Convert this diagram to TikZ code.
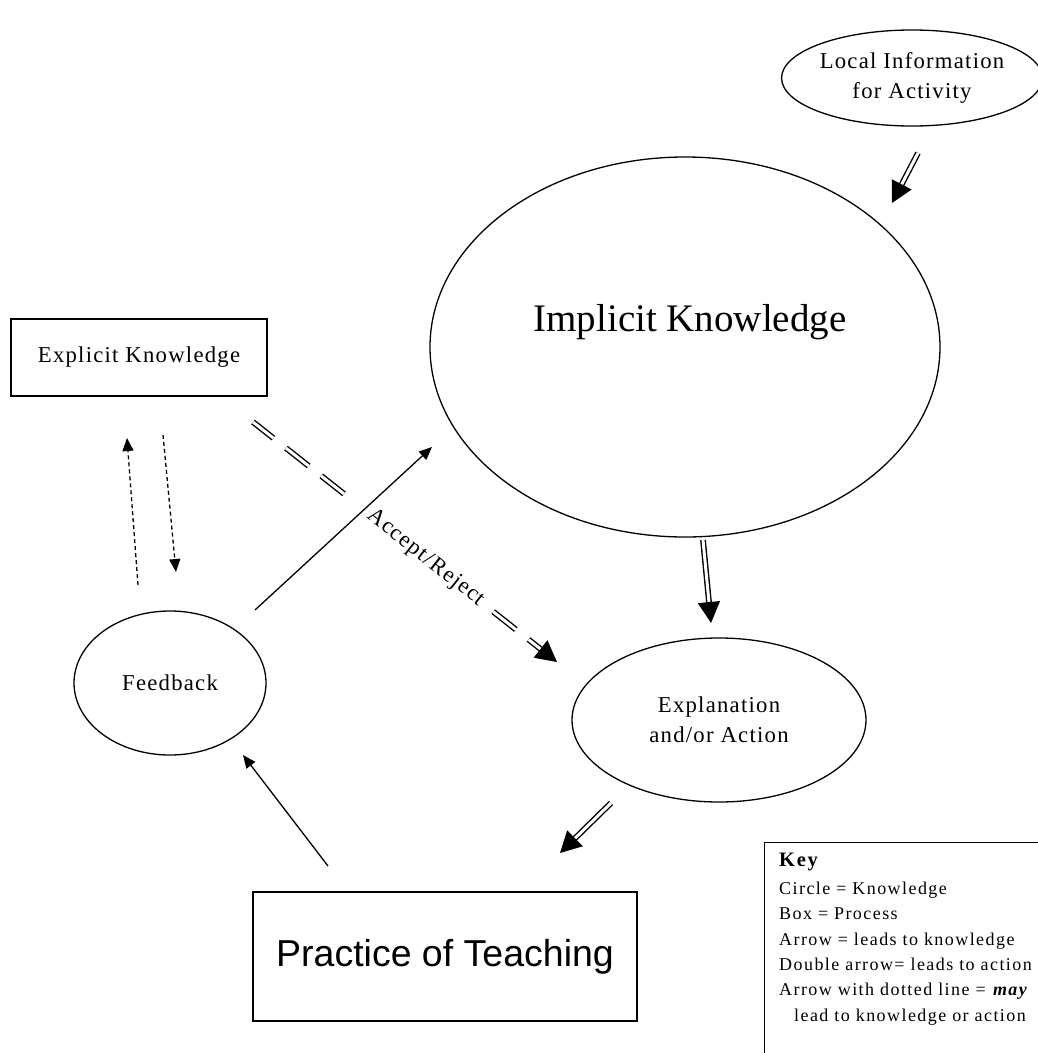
\documentclass[tikz,border=0pt]{standalone}
\usepackage{fontspec}
\setmainfont{Liberation Serif}
\newfontfamily\lblfont{Liberation Serif}[LetterSpace=5.5]
\newfontfamily\keyfont{Liberation Serif}[LetterSpace=8]
\newfontfamily\pracfont{Liberation Sans}
\usetikzlibrary{shapes.geometric,arrows.meta,calc}

\begin{document}
\begin{tikzpicture}[x=1pt,y=-1pt,
  every node/.style={inner sep=0pt},
  oval/.style={ellipse, draw, line width=1.3pt},
  boxnode/.style={rectangle, draw, line width=1.3pt},
  lbl/.style={font=\lblfont\fontsize{22.7}{30}\selectfont, align=center},
  plainarrow/.style={line width=1.3pt, -{Triangle[length=13pt,width=11pt]}},
  dotarrow/.style={plainarrow, dash pattern=on 4pt off 3pt},
  dblarrow/.style={double, double distance=3pt, line width=1.4pt, -{Triangle[length=21pt,width=22pt]}},
]
\useasboundingbox (0,0) rectangle (1037,1053);
\fill[white] (0,0) rectangle (1037,1053);

% knowledge (ellipses) and processes (boxes)
\node[oval, minimum width=250pt, minimum height=96pt, lbl] (local) at (912,78) {Local Information\\for Activity};
\node[oval, minimum width=510pt, minimum height=380pt] (imp) at (685,347) {};
\node[font=\fontsize{39}{44}\selectfont] (imptext) at (690,322) {Implicit Knowledge};
\node[boxnode, minimum width=256pt, minimum height=77pt, lbl] (expl) at (139,357.5) {Explicit Knowledge};
\node[oval, minimum width=192pt, minimum height=144pt, lbl] (fb) at (170,683) {Feedback};
\node[oval, minimum width=294pt, minimum height=164pt, lbl] (expa) at (719,720) {Explanation\\and/or Action};
\node[boxnode, minimum width=384pt, minimum height=129pt, font=\pracfont\fontsize{37.5}{44}\selectfont] (prac) at (445,956.5) {Practice of Teaching};

% legend (runs past the right and bottom edges)
\node[boxnode, minimum width=290pt, minimum height=240pt, anchor=north west] (keybox) at (764,842) {};
\node[anchor=north west, align=left, font=\keyfont\fontsize{18}{25.3}\selectfont] (keytext) at ($(keybox.north west)+(15,11)$)
  {{\fontsize{20.5}{25}\selectfont\bfseries Key}\\[2.7pt]
   Circle = Knowledge\\
   Box = Process\\
   Arrow = leads to knowledge\\
   Double arrow= leads to action\\
   Arrow with dotted line = \textbf{\textit{may}}\\
   \hspace*{15pt}lead to knowledge or action};

% connector end points
\coordinate (la) at ($(local.center)+(6,75)$);
\coordinate (lb) at ($(local.center)+(-20,125)$);
\coordinate (ia) at ($(imp.center)+(18,193)$);
\coordinate (ib) at ($(expa.center)+(-8,-97)$);
\coordinate (ea) at ($(expa.center)+(-108,83)$);
\coordinate (eb) at ($(prac.center)+(115,-103.5)$);
\coordinate (xa) at ($(expl.center)+(114,64.5)$);
\coordinate (xb) at ($(expa.center)+(-162,-58)$);
\coordinate (fa) at ($(fb.center)+(85,-73)$);
\coordinate (fbend) at ($(imp.center)+(-253,100)$);
\coordinate (pa) at ($(prac.center)+(-117,-90.5)$);
\coordinate (pb) at ($(fb.center)+(73,72)$);
\coordinate (ua) at ($(fb.center)+(-32,-98)$);
\coordinate (ub) at ($(expl.center)+(-12,80.5)$);
\coordinate (da) at ($(expl.center)+(24,77.5)$);
\coordinate (db) at ($(fb.center)+(6,-111)$);

% double arrows: lead to action
\draw[dblarrow] (la) -- (lb);
\draw[dblarrow] (ia) -- (ib);
\draw[dblarrow] (ea) -- (eb);
\draw[dblarrow, dash pattern=on 26pt off 16pt on 29pt off 16pt on 29pt off 190pt on 29pt off 16pt on 60pt]
  (xa) -- node[sloped, pos=0.568, lbl] (accept) {Accept/Reject} (xb);

% single arrows: lead to knowledge
\draw[plainarrow] (fa) -- (fbend);
\draw[plainarrow] (pa) -- (pb);

% dotted arrows: may lead to knowledge or action
\draw[dotarrow] (ua) -- (ub);
\draw[dotarrow] (da) -- (db);
\end{tikzpicture}
\end{document}
